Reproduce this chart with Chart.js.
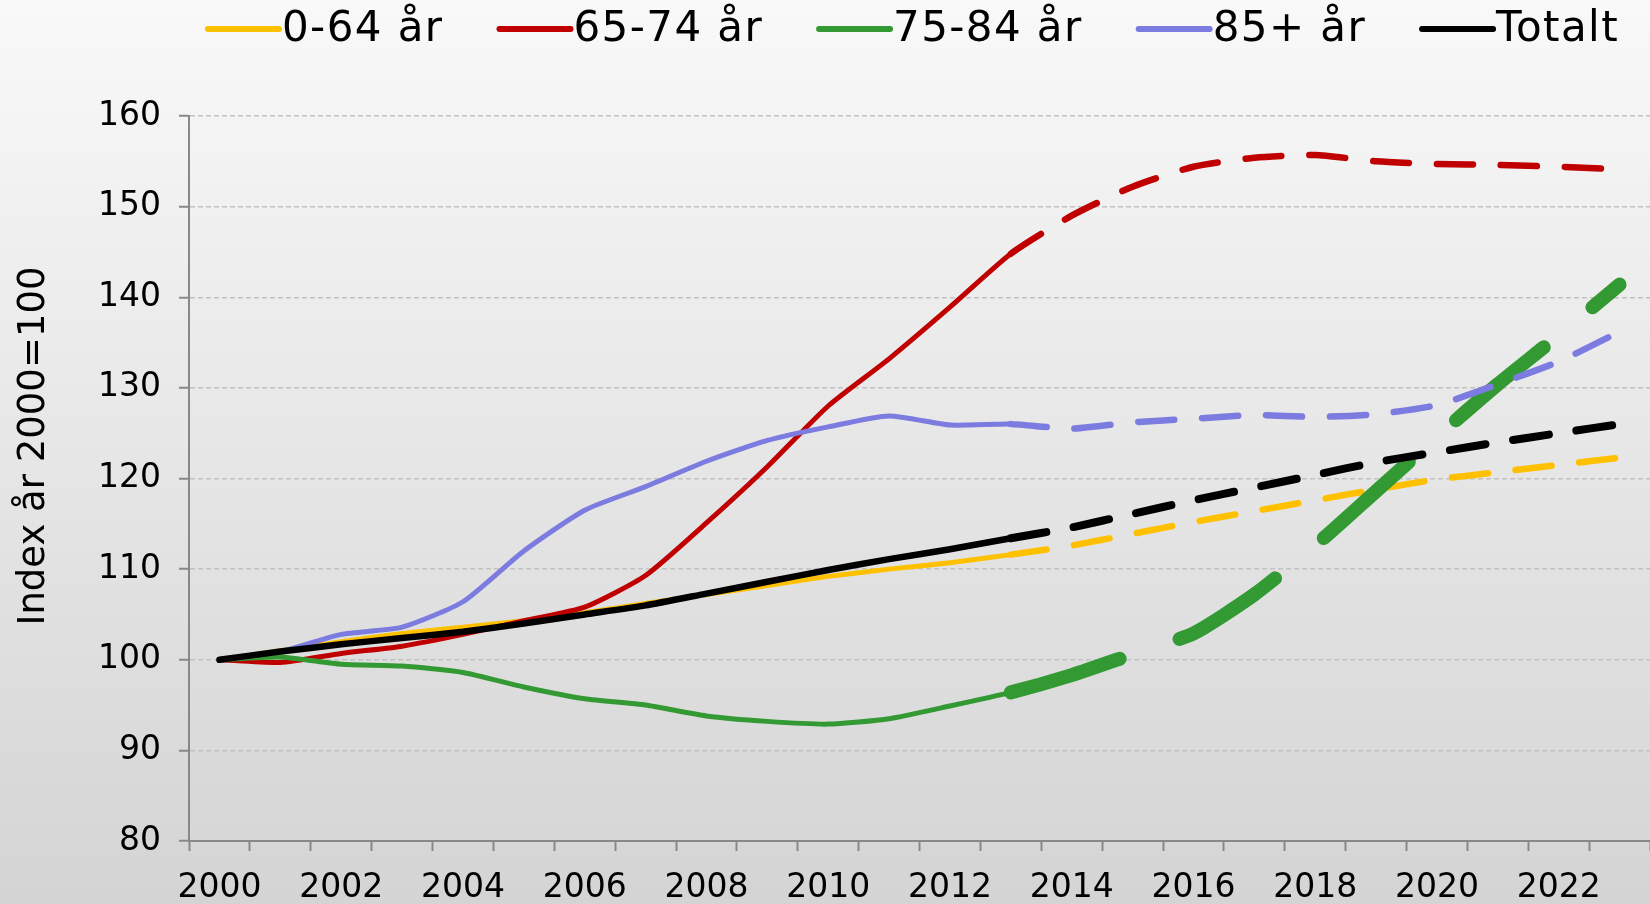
<!DOCTYPE html>
<html>
<head>
<meta charset="utf-8">
<script src="https://cdn.jsdelivr.net/npm/chart.js@4.4.1/dist/chart.umd.min.js"></script>
<style>
  html, body { margin: 0; padding: 0; background: #e8e8e8; }
  #wrap { width: 1650px; height: 904px; }
</style>
</head>
<body>
<div id="wrap"><canvas id="myChart"></canvas></div>
<script>
// data (index, year 2000 = 100)
const years = ['2000','2001','2002','2003','2004','2005','2006','2007','2008','2009','2010','2011',
               '2012','2013','2014','2015','2016','2017','2018','2019','2020','2021','2022','2023'];
const age0_64  = [100, 101.0, 102.0, 102.9, 103.6, 104.3, 105.2, 106.2, 107.2, 108.2, 109.2, 110.0,
                  110.7, 111.6, 112.6, 113.9, 115.2, 116.4, 117.6, 118.8, 119.9, 120.7, 121.5, 122.3];
const age65_74 = [100, 99.7, 100.7, 101.5, 102.8, 104.3, 105.8, 109.3, 115.1, 121.3, 128.0, 133.2,
                  138.9, 144.8, 149.0, 152.2, 154.4, 155.4, 155.7, 155.0, 154.7, 154.6, 154.4, 154.1];
const age75_84 = [100, 100.3, 99.5, 99.3, 98.6, 97.0, 95.7, 95.0, 93.8, 93.2, 92.9, 93.5,
                  94.9, 96.4, 98.3, 100.6, 102.9, 107.2, 112.6, 118.6, 124.6, 130.4, 135.8, 141.4];
const age85    = [100, 100.9, 102.8, 103.6, 106.4, 112.0, 116.5, 119.1, 121.9, 124.2, 125.7, 126.9,
                  125.9, 126.0, 125.5, 126.2, 126.6, 127.0, 126.8, 127.1, 128.1, 130.4, 132.9, 136.2];
const total    = [100, 100.9, 101.7, 102.4, 103.1, 104.0, 105.0, 106.0, 107.3, 108.6, 109.9, 111.1,
                  112.2, 113.4, 114.6, 116.1, 117.6, 119.0, 120.4, 121.8, 122.9, 124.0, 125.0, 126.0];
const yTicks = [80, 90, 100, 110, 120, 130, 140, 150, 160];
const yTitle = 'Index år 2000=100';

const forecastFrom = 13; // 2013 onwards is prognosis (dashed)

function afterForecast(a, b) {
  return ctx => ctx.p0DataIndex >= forecastFrom ? a : b;
}

function line(label, values, color, width, order) {
  return {
    label: label,
    data: values,
    borderColor: color,
    backgroundColor: color,
    borderWidth: width,
    borderCapStyle: 'round',
    borderJoinStyle: 'round',
    pointRadius: 0,
    tension: 0.2,
    order: order,
    segment: {
      borderDash: afterForecast([36, 28], undefined),
      borderWidth: afterForecast(width + 1.5, undefined)
    }
  };
}

const datasets = [
  line('0-64 år', age0_64, '#ffc000', 5, 4),
  line('65-74 år', age65_74, '#c00000', 5, 3),
  line('75-84 år', age75_84, '#339933', 5, 2),
  line('85+ år', age85, '#7b7be0', 5, 1),
  line('Totalt', total, '#000000', 6.5, 0)
];
// the 75-84 prognosis is drawn as a heavy dashed line
datasets[2].segment = {
  borderDash: afterForecast([114, 63], undefined),
  borderWidth: afterForecast(14, undefined)
};

const background = {
  id: 'background',
  beforeDraw(chart) {
    const ctx = chart.ctx;
    const g = ctx.createLinearGradient(0, 0, 0, chart.height);
    g.addColorStop(0, '#f9f9f9');
    g.addColorStop(1, '#d4d4d4');
    ctx.save();
    ctx.fillStyle = g;
    ctx.fillRect(0, 0, chart.width, chart.height);
    ctx.restore();
  }
};

// legend row on top and the rotated y title
const labelsPlugin = {
  id: 'labelsPlugin',
  afterDraw(chart) {
    const ctx = chart.ctx;
    ctx.save();
    ctx.font = '42px "DejaVu Sans"';
    ctx.letterSpacing = '1.4px';
    ctx.textBaseline = 'middle';
    let x = 205;
    chart.data.datasets.forEach(ds => {
      ctx.strokeStyle = ds.borderColor;
      ctx.lineWidth = 6;
      ctx.lineCap = 'round';
      ctx.beginPath();
      ctx.moveTo(x + 3, 29);
      ctx.lineTo(x + 74, 29);
      ctx.stroke();
      x += 77;
      ctx.fillStyle = '#000';
      ctx.fillText(ds.label, x, 30);
      x += ctx.measureText(ds.label).width + 53;
    });
    ctx.restore();

    ctx.save();
    ctx.font = '37px "DejaVu Sans"';
    ctx.fillStyle = '#000';
    ctx.textAlign = 'center';
    ctx.textBaseline = 'alphabetic';
    ctx.translate(44, 446);
    ctx.rotate(-Math.PI / 2);
    ctx.fillText(yTitle, 0, 0);
    ctx.restore();
  }
};

const config = {
  type: 'line',
  data: { labels: years, datasets: datasets },
  plugins: [background, labelsPlugin],
  options: {
    responsive: true,
    maintainAspectRatio: false,
    animation: false,
    layout: { padding: { top: 116, left: 0, right: 0, bottom: 0 } },
    plugins: {
      legend: { display: false },
      tooltip: { enabled: false }
    },
    scales: {
      x: {
        offset: true,
        grid: {
          offset: true,
          drawOnChartArea: false,
          drawTicks: true,
          tickLength: 10,
          tickColor: '#888',
          tickWidth: 2
        },
        border: { color: '#888', width: 2 },
        ticks: {
          autoSkip: false,
          maxRotation: 0,
          padding: 18,
          color: '#000',
          font: { family: 'DejaVu Sans', size: 33 },
          callback: function(value, index) {
            return index % 2 === 0 ? years[index] : '';
          }
        },
        afterFit: scale => { scale.height = 63; }
      },
      y: {
        min: yTicks[0],
        max: yTicks[yTicks.length - 1],
        afterBuildTicks: scale => { scale.ticks = yTicks.map(v => ({ value: v })); },
        grid: {
          color: '#c2c2c2',
          lineWidth: 1.5,
          tickLength: 10,
          tickColor: '#888',
          tickWidth: 2,
          tickBorderDash: []
        },
        border: { color: '#888', width: 2, dash: [5, 3] },
        ticks: {
          padding: 18,
          color: '#000',
          font: { family: 'DejaVu Sans', size: 33 }
        },
        afterFit: scale => { scale.width = 189; }
      }
    }
  }
};

const myChart = new Chart(document.getElementById('myChart'), config);
</script>
</body>
</html>
